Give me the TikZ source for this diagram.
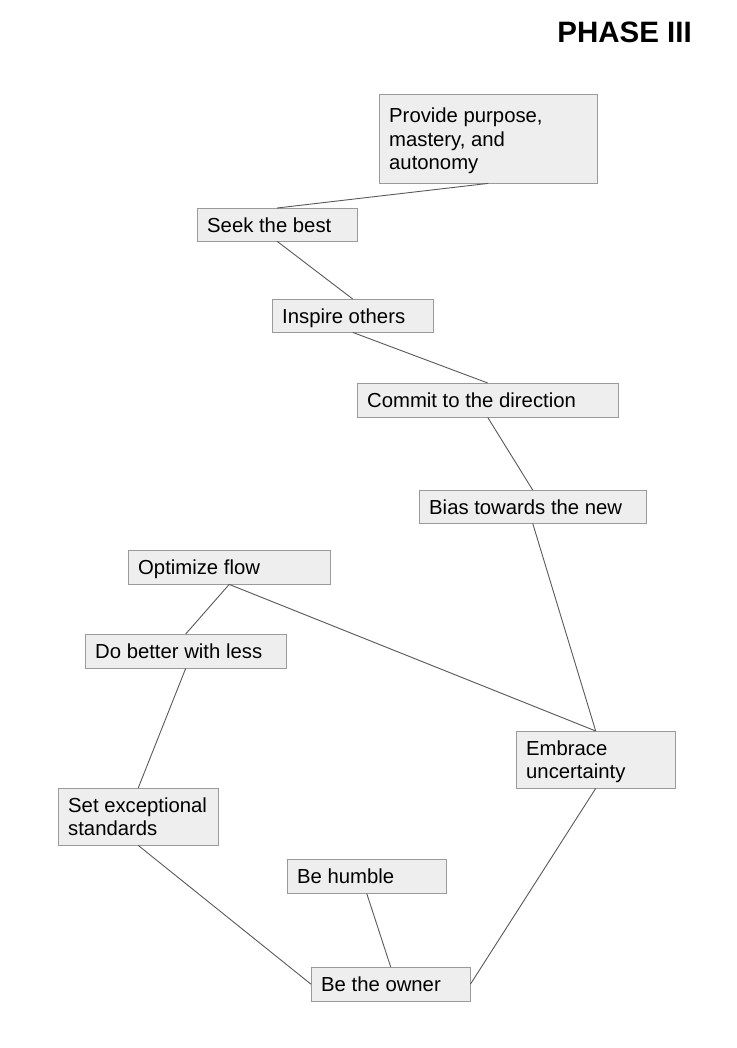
\documentclass[tikz,border=0pt]{standalone}
\usepackage{fontspec}
\setmainfont{Liberation Sans}
\usetikzlibrary{positioning}
\definecolor{boxfill}{HTML}{EEEEEE}
\definecolor{boxline}{HTML}{9A9A9A}
\definecolor{linkgray}{HTML}{595959}
\tikzset{line width=1pt,
  every node/.style={font=\fontsize{20.3}{23.5}\selectfont},
  box/.style={draw=boxline,fill=boxfill,anchor=north west,inner xsep=10pt,inner ysep=0pt,
    text depth=0pt,align=flush left},
  morelines/.style={text depth=#1*23.5pt},% #1 = extra lines below the first
  link/.style={draw=linkgray,line width=.9pt},
  title/.style={font=\fontsize{29.5}{32}\selectfont\bfseries,inner sep=0pt,anchor=base east}}

\begin{document}
\begin{tikzpicture}[x=1pt,y=-1pt]
\path[use as bounding box](0,0)rectangle(736,1048);
\node[title](phase)at(692,43){PHASE III};
% boxes: top left corner at (x,y), text width = box width - 20
\node[box,morelines=2,text width=198pt,minimum height=89pt](purpose)at(379,94){Provide purpose,\\mastery, and\\autonomy};
\node[box,text width=140pt,minimum height=33pt](seek)at(197,208){Seek the best};
\node[box,text width=141pt,minimum height=33pt](inspire)at(272,299){Inspire others};
\node[box,text width=241pt,minimum height=34pt](commit)at(357,383){Commit to the direction};
\node[box,text width=207pt,minimum height=33pt](bias)at(419,490){Bias towards the new};
\node[box,text width=182pt,minimum height=34pt](optimize)at(128,550){Optimize flow};
\node[box,text width=181pt,minimum height=34pt](better)at(85,634){Do better with less};
\node[box,morelines=1,text width=139pt,minimum height=57pt](embrace)at(516,731){Embrace\\uncertainty};
\node[box,morelines=1,text width=140pt,minimum height=57pt](standards)at(58,788){Set exceptional\\standards};
\node[box,text width=139pt,minimum height=34pt](humble)at(287,859){Be humble};
\node[box,text width=139pt,minimum height=34pt](owner)at(311,967){Be the owner};
% connectors
\draw[link](purpose.south)--(seek.north);\draw[link](seek.south)--(inspire.north);
\draw[link](inspire.south)--(commit.north);\draw[link](commit.south)--(bias.north);
\draw[link](bias.south)--(embrace.north);\draw[link](optimize.south)--(embrace.north);
\draw[link](optimize.south)--(better.north);\draw[link](better.south)--(standards.north);
\draw[link](standards.south)--(owner.west);\draw[link](humble.south)--(owner.north);
\draw[link](embrace.south)--(owner.east);
\end{tikzpicture}
\end{document}
